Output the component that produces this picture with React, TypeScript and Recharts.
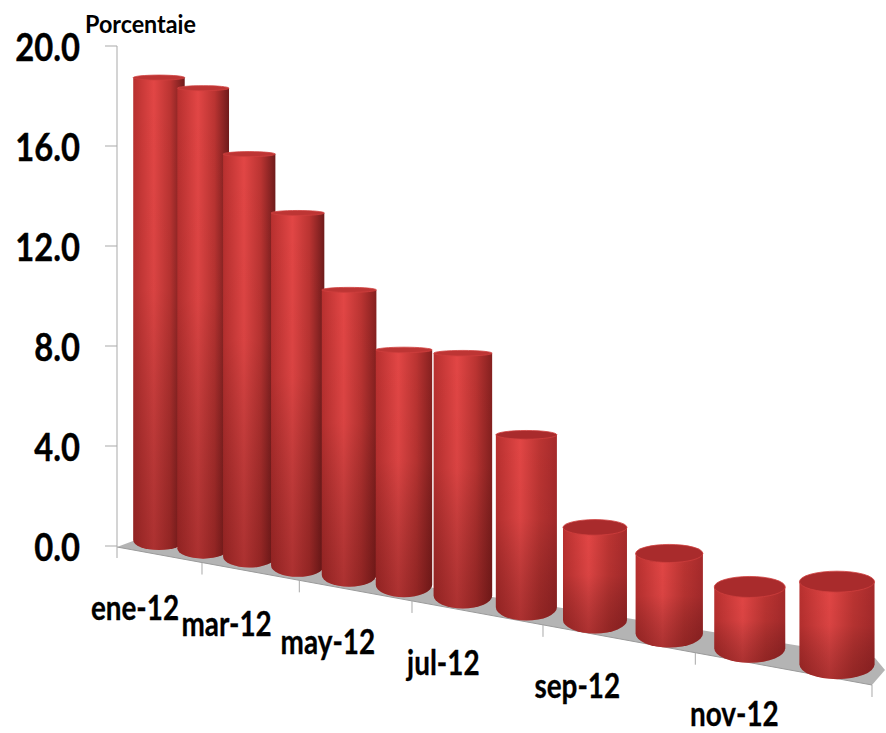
import React from "react";
import { BarChart, Bar, XAxis, YAxis, Customized } from "recharts";

// Monthly percentages, January to December 2012
const months = ["ene-12", "feb-12", "mar-12", "abr-12", "may-12", "jun-12", "jul-12", "ago-12", "sep-12", "oct-12", "nov-12", "dic-12"];
const percentages = [18.5, 18.4, 16.1, 14.1, 11.4, 9.4, 9.7, 6.9, 3.7, 3.2, 2.45, 3.3];
const valueTicks = [0, 4, 8, 12, 16, 20];

const rows = months.map((month, i) => ({ month, value: percentages[i] }));

const WIDTH = 886;
const HEIGHT = 733;
const PLOT_LEFT = 117;
const PLOT_TOP = 46;
const PLOT_BOTTOM = 546;
const STEP = (WIDTH - PLOT_LEFT) / months.length;
const FONT = "Lato, 'Liberation Sans', sans-serif";
const AXIS_GREY = "#a9a9a9";

// Perspective of the sloped floor: slots further along the axis come closer to the viewer.
const slotOf = (bandCenter: number) => (bandCenter - PLOT_LEFT) / STEP - 0.5;
const projectX = (s: number) => 159 + 43.47 * s + 0.652 * s * s + 0.0909 * s * s * s;
const floorY = (cx: number) => 511 + 0.183 * cx;
const cylinderWidth = (slot: number) => 51.5 + 0.195 * slot * slot;
// Axis tick marks sit every two months along the slab's front edge.
const projectMark = (k: number) => 117 + 79.83 * k + 4.667 * k * k + 0.5 * k * k * k;

function Cylinder(props: any) {
  const { x, width, height, index } = props;
  const slot = slotOf(x + width / 2);
  const cx = projectX(slot);
  const w = cylinderWidth(slot);
  const rx = w / 2;
  const baseY = floorY(cx);
  const topY = baseY - height;
  const baseRy = 10 + (5 * slot) / 11;
  const t = Math.min(1, Math.max(0, (topY - 300) / 280));
  const topRy = 2.5 + 8 * t * t;
  const near = slot / 11;
  const edge = near > 0.6 ? "#a62a2b" : near > 0.3 ? "#85201f" : "#6f1b1b";
  const id = `cyl-${index}`;
  const side = `M${cx - rx},${topY} V${baseY} A${rx},${baseRy} 0 0 0 ${cx + rx},${baseY} V${topY} Z`;
  return (
    <g>
      <defs>
        <linearGradient id={id} x1="0" y1="0" x2="1" y2="0">
          <stop offset="0" stopColor="#b8302f" />
          <stop offset="0.4" stopColor="#e24645" />
          <stop offset="0.72" stopColor="#bb3432" />
          <stop offset="1" stopColor={edge} />
        </linearGradient>
        <linearGradient id={`${id}-shade`} x1="0" y1="0" x2="0" y2="1">
          <stop offset="0" stopColor="#000" stopOpacity="0" />
          <stop offset="0.45" stopColor="#000" stopOpacity="0.04" />
          <stop offset="1" stopColor="#3a0505" stopOpacity="0.32" />
        </linearGradient>
      </defs>
      <path d={side} fill={`url(#${id})`} />
      <path d={side} fill={`url(#${id}-shade)`} />
      <ellipse cx={cx} cy={topY} rx={rx} ry={topRy} fill={t > 0.4 ? "#a92b2c" : "#bd3534"} stroke="#cf3f3e" strokeWidth={0.8} />
    </g>
  );
}

// Floor slab, axis extension and the tick marks along its front edge
function Floor() {
  const marks = [1, 2, 3, 4, 5, 6].map(projectMark);
  const frontY = (x: number) => 547 + 0.1828 * (x - 117);
  return (
    <g>
      <polygon points="117,547 133,541 620,617 875,658 885,670 872,685" fill="#b4b4b4" />
      <line x1={117} y1={547} x2={872} y2={685} stroke="#9a9a9a" strokeWidth={1} />
      <line x1={117} y1={PLOT_BOTTOM} x2={117} y2={558} stroke={AXIS_GREY} strokeWidth={1} />
      {marks.map((x) => (
        <line key={x} x1={x} y1={frontY(x)} x2={x} y2={frontY(x) + 12} stroke={AXIS_GREY} strokeWidth={1} />
      ))}
    </g>
  );
}

function UnitTitle() {
  return (
    <g>
      <defs>
        <clipPath id="unit-clip">
          <rect x={80} y={0} width={130} height={34} />
        </clipPath>
      </defs>
      <g clipPath="url(#unit-clip)">
        <text x={85} y={33} fontFamily={FONT} fontWeight={700} fontSize={24} fill="#000" textLength={111} lengthAdjust="spacingAndGlyphs">
          Porcentaje
        </text>
      </g>
    </g>
  );
}

function ValueTick(props: any) {
  const { x, y, payload } = props;
  return (
    <text x={x} y={y + 15} textAnchor="end" fontFamily={FONT} fontWeight={700} fontSize={39} fill="#000" stroke="#000" strokeWidth={0.4} transform={`translate(${x * 0.16} 0) scale(0.84 1)`}>
      {payload.value.toFixed(1)}
    </text>
  );
}

function MonthTick(props: any) {
  const { x, payload } = props;
  const cx = projectX(slotOf(x));
  const labelX = cx - 24 + 0.0145 * (cx - 159);
  const labelY = 620 + 0.18 * (cx - 159);
  return (
    <text x={labelX} y={labelY} textAnchor="middle" fontFamily={FONT} fontWeight={700} fontSize={34} fill="#000" stroke="#000" strokeWidth={0.3} transform={`translate(${labelX * 0.18} 0) scale(0.82 1)`}>
      {payload.value}
    </text>
  );
}

export default function App() {
  return (
    <div style={{ position: "absolute", left: 0, top: 0, width: WIDTH, height: HEIGHT, background: "#fff" }}>
      <BarChart
        width={WIDTH}
        height={HEIGHT}
        data={rows}
        margin={{ top: PLOT_TOP, right: 0, bottom: HEIGHT - PLOT_BOTTOM - 30, left: 0 }}
        barCategoryGap={0}
      >
        <Customized component={<Floor />} />
        <XAxis dataKey="month" height={30} interval={1} axisLine={false} tickLine={false} tick={<MonthTick />} />
        <YAxis
          width={PLOT_LEFT}
          domain={[0, 20]}
          ticks={valueTicks}
          interval={0}
          tickSize={12}
          tickMargin={25}
          axisLine={{ stroke: AXIS_GREY }}
          tickLine={{ stroke: AXIS_GREY }}
          tick={<ValueTick />}
        />
        <Bar dataKey="value" isAnimationActive={false} shape={<Cylinder />} />
        <Customized component={<UnitTitle />} />
      </BarChart>
    </div>
  );
}
